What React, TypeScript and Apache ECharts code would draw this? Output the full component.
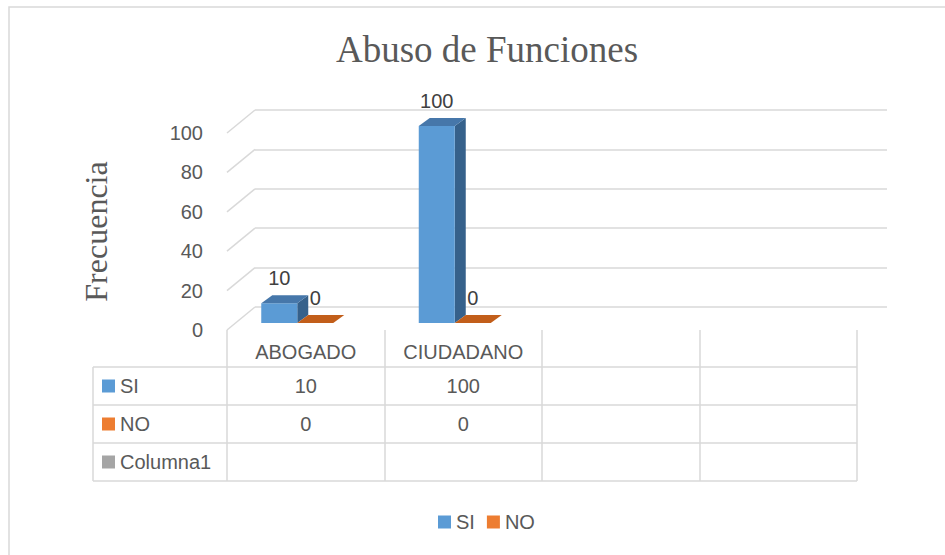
import React, { useEffect, useRef } from "react";
import * as echarts from "echarts";

// ---- data ----
const categories = ["ABOGADO", "CIUDADANO", "", ""];
const siValues = [10, 100];
const noValues = [0, 0];
const seriesNames = ["SI", "NO", "Columna1"];
const yTicks = [0, 20, 40, 60, 80, 100];
const chartTitle = "Abuso de Funciones";
const yAxisTitle = "Frecuencia";

// ---- style ----
const TEXT = "#595959";
const GRID_LINE = "#D9D9D9";
const SANS = "Liberation Sans";
const SERIF = "Liberation Serif";
const COLORS = {
  SI: { front: "#5B9BD5", top: "#4677AA", side: "#36618B" },
  NO: { front: "#ED7D31", top: "#C25E1A", side: "#A84C0E" },
  Columna1: { front: "#A5A5A5", top: "#8A8A8A", side: "#707070" },
};
const DEPTH_DX = 28;
const DEPTH_DY = -23;
const BAR_W = 36;
const BAR_DX = 11;
const BAR_DY = -8;
const BAR_LIFT = 7;
const BAR_OFFSETS = { SI: -44.5, NO: -8.5 };
const ROW_TOP = 367;
const ROW_H = 38;
const TABLE_LEFT = 93;
const TABLE_RIGHT = 857;

function barRender(name: "SI" | "NO") {
  const c = COLORS[name];
  return (params: any, api: any) => {
    const cat = api.value(0);
    const v = api.value(1);
    const base = api.coord([cat, 0]);
    const topPt = api.coord([cat, v]);
    const xL = base[0] + BAR_OFFSETS[name];
    const xR = xL + BAR_W;
    const yB = base[1] - BAR_LIFT;
    const yT = topPt[1] - BAR_LIFT;
    const children: any[] = [];
    if (yB - yT > 0.5) {
      children.push({
        type: "polygon",
        shape: { points: [[xR, yT], [xR + BAR_DX, yT + BAR_DY], [xR + BAR_DX, yB + BAR_DY], [xR, yB]] },
        style: { fill: c.side },
      });
      children.push({
        type: "rect",
        shape: { x: xL, y: yT, width: BAR_W, height: yB - yT },
        style: { fill: c.front },
      });
    }
    children.push({
      type: "polygon",
      shape: { points: [[xL, yT], [xR, yT], [xR + BAR_DX, yT + BAR_DY], [xL + BAR_DX, yT + BAR_DY]] },
      style: { fill: c.top },
    });
    children.push({
      type: "text",
      x: (xL + xR) / 2,
      y: yT - 25,
      style: {
        text: String(v),
        fill: "#404040",
        font: `20px "${SANS}"`,
        align: "center",
        verticalAlign: "middle",
      },
    });
    return { type: "group", children };
  };
}

export default function App() {
  const ref = useRef<HTMLDivElement>(null);
  useEffect(() => {
    if (!ref.current) return;
    const chart = echarts.init(ref.current, null, { renderer: "svg" });

    const tableRows = [
      { name: seriesNames[0], values: siValues },
      { name: seriesNames[1], values: noValues },
      { name: seriesNames[2], values: [] as number[] },
    ];

    const graphics: any[] = [
      {
        type: "rect",
        shape: { x: 9, y: 7, width: 980, height: 600 },
        style: { fill: "none", stroke: GRID_LINE, lineWidth: 1.5 },
        silent: true,
      },
    ];
    // table horizontal lines
    for (let r = 0; r <= tableRows.length; r++) {
      const y = ROW_TOP + r * ROW_H;
      graphics.push({
        type: "line",
        shape: { x1: TABLE_LEFT, y1: y, x2: TABLE_RIGHT, y2: y },
        style: { stroke: GRID_LINE, lineWidth: 1.5 },
      });
    }
    graphics.push({
      type: "line",
      shape: { x1: TABLE_LEFT, y1: ROW_TOP, x2: TABLE_LEFT, y2: ROW_TOP + tableRows.length * ROW_H },
      style: { stroke: GRID_LINE, lineWidth: 1.5 },
    });
    tableRows.forEach((row, r) => {
      const cy = ROW_TOP + r * ROW_H + ROW_H / 2;
      const col = (COLORS as any)[row.name].front;
      graphics.push({
        type: "rect",
        shape: { x: 102, y: cy - 6.5, width: 13, height: 13 },
        style: { fill: col },
      });
      graphics.push({
        type: "text",
        x: 120,
        y: cy,
        style: { text: row.name, fill: TEXT, font: `20px "${SANS}"`, verticalAlign: "middle", align: "left" },
      });
    });

    const option: any = {
      animation: false,
      backgroundColor: "#ffffff",
      title: {
        text: chartTitle,
        left: 331,
        top: 26,
        textStyle: { fontFamily: SERIF, fontSize: 37, fontWeight: "normal", color: TEXT },
      },
      legend: {
        data: ["SI", "NO"],
        left: 433,
        top: 507,
        icon: "rect",
        itemWidth: 13,
        itemHeight: 13,
        itemGap: 12,
        itemTextGap: 4,
        textStyle: { fontFamily: SANS, fontSize: 20, color: TEXT },
      },
      grid: [
        { left: 227, top: 133, width: 630, height: 197 },
        { left: 255, top: 110, width: 632, height: 197 },
      ],
      xAxis: [
        {
          type: "category",
          gridIndex: 0,
          data: categories,
          axisLine: { show: false },
          axisTick: { show: true, length: ROW_TOP + 3 * ROW_H - 330, lineStyle: { color: GRID_LINE, width: 1.5 } },
          axisLabel: { margin: 12, fontFamily: SANS, fontSize: 20, color: TEXT, interval: 0 },
          splitLine: { show: false },
        },
        {
          type: "value",
          gridIndex: 1,
          min: 0,
          max: 1,
          show: false,
        },
      ],
      yAxis: [
        {
          type: "value",
          gridIndex: 0,
          min: 0,
          max: 100,
          interval: 20,
          axisLine: { show: false },
          axisTick: { show: false },
          splitLine: { show: false },
          axisLabel: { margin: 24, fontFamily: SANS, fontSize: 20, color: TEXT },
          name: yAxisTitle,
          nameLocation: "middle",
          nameRotate: 90,
          nameGap: 115,
          nameTextStyle: { fontFamily: SERIF, fontSize: 32, color: TEXT },
        },
        {
          type: "value",
          gridIndex: 1,
          min: 0,
          max: 100,
          interval: 20,
          axisLine: { show: false },
          axisTick: { show: false },
          axisLabel: { show: false },
          splitLine: { show: true, lineStyle: { color: GRID_LINE, width: 1.5 } },
        },
      ],
      series: [
        {
          type: "custom",
          name: "diag",
          xAxisIndex: 0,
          yAxisIndex: 0,
          silent: true,
          z: 1,
          clip: false,
          data: yTicks.map((v) => [0, v]),
          renderItem: (params: any, api: any) => {
            const p = api.coord([0, api.value(1)]);
            const x0 = params.coordSys.x;
            return {
              type: "line",
              shape: { x1: x0, y1: p[1], x2: x0 + DEPTH_DX, y2: p[1] + DEPTH_DY },
              style: { stroke: GRID_LINE, lineWidth: 1.5 },
            };
          },
        },
        {
          type: "custom",
          name: "SI",
          xAxisIndex: 0,
          yAxisIndex: 0,
          z: 2,
          clip: false,
          itemStyle: { color: COLORS.SI.front },
          data: siValues.map((v, i) => [i, v]),
          renderItem: barRender("SI"),
        },
        {
          type: "custom",
          name: "NO",
          xAxisIndex: 0,
          yAxisIndex: 0,
          z: 2,
          clip: false,
          itemStyle: { color: COLORS.NO.front },
          data: noValues.map((v, i) => [i, v]),
          renderItem: barRender("NO"),
        },
        {
          type: "custom",
          name: "table",
          xAxisIndex: 0,
          yAxisIndex: 0,
          silent: true,
          z: 2,
          clip: false,
          data: categories.map((_, i) => [i, 0]),
          renderItem: (params: any, api: any) => {
            const i = api.value(0);
            const x = api.coord([i, 0])[0];
            const children: any[] = [];
            tableRows.forEach((row, r) => {
              const v = row.values[i];
              if (v === undefined || v === null) return;
              children.push({
                type: "text",
                x,
                y: ROW_TOP + r * ROW_H + ROW_H / 2,
                style: {
                  text: String(v),
                  fill: TEXT,
                  font: `20px "${SANS}"`,
                  align: "center",
                  verticalAlign: "middle",
                },
              });
            });
            return { type: "group", children };
          },
        },
      ],
      graphic: graphics,
    };
    chart.setOption(option);
    return () => chart.dispose();
  }, []);
  return (
    <div
      ref={ref}
      style={{ position: "absolute", left: 0, top: 0, width: 945, height: 555 }}
    />
  );
}
